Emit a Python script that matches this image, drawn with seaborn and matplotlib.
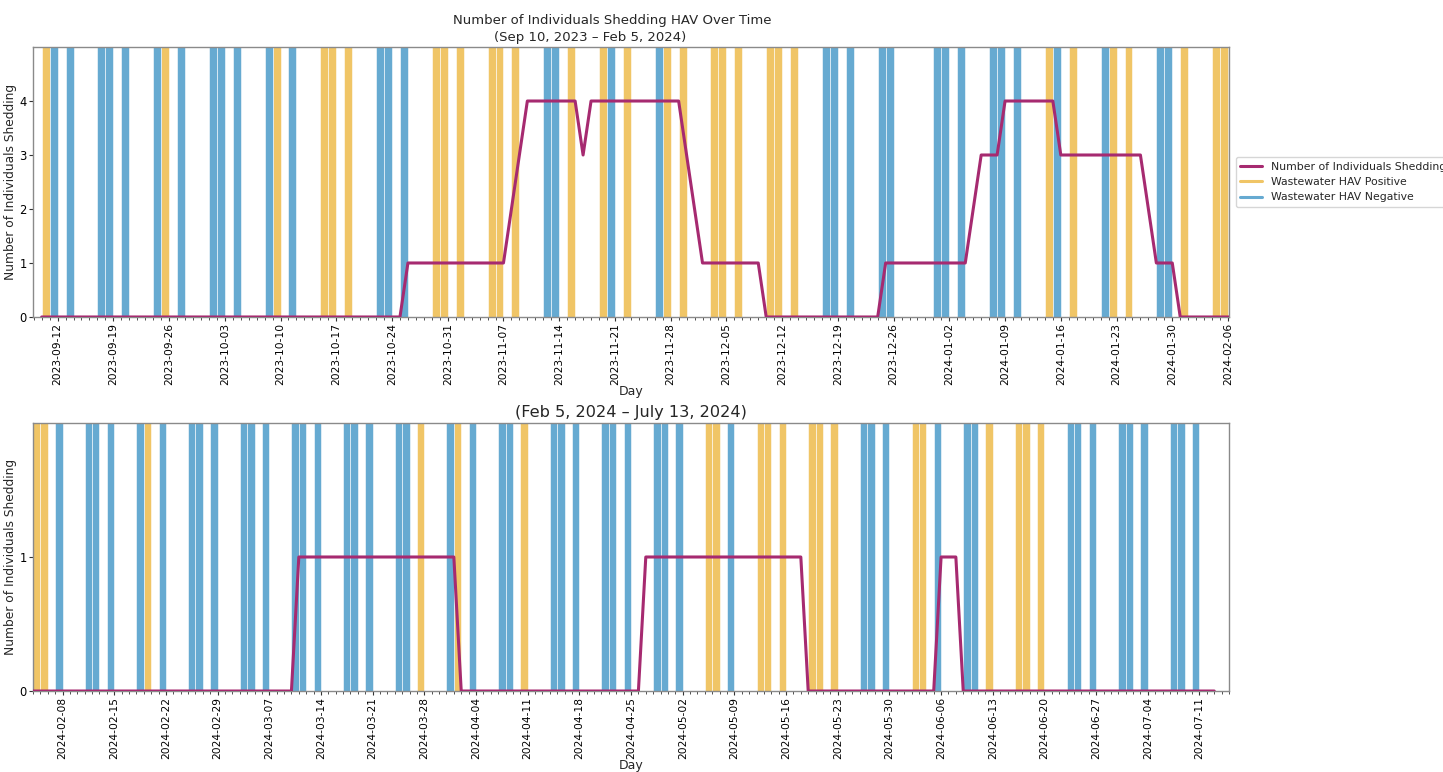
import numpy as np
import pandas as pd
import matplotlib
matplotlib.use("Agg")

import matplotlib.pyplot as plt
import matplotlib.dates as mdates
from matplotlib.lines import Line2D
import seaborn as sns

# Wastewater sampling days (Sun / Mon / Wed) and result: P = positive, N = negative
sample_dates = [
    "2023-09-10", "2023-09-11", "2023-09-13",
    "2023-09-17", "2023-09-18", "2023-09-20",
    "2023-09-24", "2023-09-25", "2023-09-27",
    "2023-10-01", "2023-10-02", "2023-10-04",
    "2023-10-08", "2023-10-09", "2023-10-11",
    "2023-10-15", "2023-10-16", "2023-10-18",
    "2023-10-22", "2023-10-23", "2023-10-25",
    "2023-10-29", "2023-10-30", "2023-11-01",
    "2023-11-05", "2023-11-06", "2023-11-08",
    "2023-11-12", "2023-11-13", "2023-11-15",
    "2023-11-19", "2023-11-20", "2023-11-22",
    "2023-11-26", "2023-11-27", "2023-11-29",
    "2023-12-03", "2023-12-04", "2023-12-06",
    "2023-12-10", "2023-12-11", "2023-12-13",
    "2023-12-17", "2023-12-18", "2023-12-20",
    "2023-12-24", "2023-12-25",
    "2023-12-31", "2024-01-01", "2024-01-03",
    "2024-01-07", "2024-01-08", "2024-01-10",
    "2024-01-14", "2024-01-15", "2024-01-17",
    "2024-01-21", "2024-01-22", "2024-01-24",
    "2024-01-28", "2024-01-29", "2024-01-31",
    "2024-02-04", "2024-02-05", "2024-02-07",
    "2024-02-11", "2024-02-12", "2024-02-14",
    "2024-02-18", "2024-02-19", "2024-02-21",
    "2024-02-25", "2024-02-26", "2024-02-28",
    "2024-03-03", "2024-03-04", "2024-03-06",
    "2024-03-10", "2024-03-11", "2024-03-13",
    "2024-03-17", "2024-03-18", "2024-03-20",
    "2024-03-24", "2024-03-25", "2024-03-27",
    "2024-03-31", "2024-04-01", "2024-04-03",
    "2024-04-07", "2024-04-08", "2024-04-10",
    "2024-04-14", "2024-04-15", "2024-04-17",
    "2024-04-21", "2024-04-22", "2024-04-24",
    "2024-04-28", "2024-04-29", "2024-05-01",
    "2024-05-05", "2024-05-06", "2024-05-08",
    "2024-05-12", "2024-05-13", "2024-05-15",
    "2024-05-19", "2024-05-20", "2024-05-22",
    "2024-05-26", "2024-05-27", "2024-05-29",
    "2024-06-02", "2024-06-03", "2024-06-05",
    "2024-06-09", "2024-06-10", "2024-06-12",
    "2024-06-16", "2024-06-17", "2024-06-19",
    "2024-06-23", "2024-06-24", "2024-06-26",
    "2024-06-30", "2024-07-01", "2024-07-03",
    "2024-07-07", "2024-07-08", "2024-07-10",
]

sample_results = [
    "P", "N", "N",
    "N", "N", "N",
    "N", "P", "N",
    "N", "N", "N",
    "N", "P", "N",
    "P", "P", "P",
    "N", "N", "N",
    "P", "P", "P",
    "P", "P", "P",
    "N", "N", "P",
    "P", "N", "P",
    "N", "P", "P",
    "P", "P", "P",
    "P", "P", "P",
    "N", "N", "N",
    "N", "N",
    "N", "N", "N",
    "N", "N", "N",
    "P", "N", "P",
    "N", "P", "P",
    "N", "N", "P",
    "P", "P", "N",
    "N", "N", "N",
    "N", "P", "N",
    "N", "N", "N",
    "N", "N", "N",
    "N", "N", "N",
    "N", "N", "N",
    "N", "N", "P",
    "N", "P", "N",
    "N", "N", "P",
    "N", "N", "N",
    "N", "N", "N",
    "N", "N", "N",
    "P", "P", "N",
    "P", "P", "P",
    "P", "P", "P",
    "N", "N", "N",
    "P", "P", "N",
    "N", "N", "P",
    "P", "P", "P",
    "N", "N", "N",
    "N", "N", "N",
    "N", "N", "N",
]

# Number of individuals shedding (days where the count changes)
shed_dates = [
    "2023-09-10", "2023-10-25", "2023-10-26", "2023-11-07", "2023-11-10",
    "2023-11-16", "2023-11-17", "2023-11-18", "2023-11-29", "2023-12-02",
    "2023-12-09", "2023-12-10", "2023-12-24", "2023-12-25", "2024-01-04",
    "2024-01-06", "2024-01-08", "2024-01-09", "2024-01-15", "2024-01-16",
    "2024-01-26", "2024-01-28", "2024-01-30", "2024-01-31", "2024-03-10",
    "2024-03-11", "2024-04-01", "2024-04-02", "2024-04-26", "2024-04-27",
    "2024-05-18", "2024-05-19", "2024-06-05", "2024-06-06", "2024-06-08",
    "2024-06-09", "2024-07-13",
]
shed_counts = [
    0, 0, 1, 1, 4,
    4, 3, 4, 4, 1,
    1, 0, 0, 1, 1,
    3, 3, 4, 4, 3,
    3, 1, 1, 0, 0,
    1, 1, 0, 0, 1,
    1, 0, 0, 1, 1,
    0, 0,
]

panel_titles = ["(Sep 10, 2023 \u2013 Feb 5, 2024)", "(Feb 5, 2024 \u2013 July 13, 2024)"]
panel_limits = [
    ("2023-09-08 22:00", "2024-02-06 03:00"),
    ("2024-02-04 00:00", "2024-07-15 00:00"),
]
panel_first_tick = ["2023-09-12", "2024-02-08"]

pos_color = "#F0C566"
neg_color = "#66AAD1"
line_color = "#A62A70"

samples = pd.DataFrame({
    "date": pd.to_datetime(sample_dates),
    "result": sample_results,
})
shed = pd.DataFrame({
    "date": pd.to_datetime(shed_dates),
    "count": shed_counts,
})

sns.set_style("ticks")
plt.rcParams["font.family"] = ["DejaVu Sans"]
plt.rcParams["axes.edgecolor"] = "#8a8a8a"
plt.rcParams["xtick.color"] = "#333333"
plt.rcParams["ytick.color"] = "#333333"
plt.rcParams["xtick.labelcolor"] = "black"
plt.rcParams["ytick.labelcolor"] = "black"

fig = plt.figure(figsize=(14.43, 7.72), dpi=100)
ax_top = fig.add_axes([0.0229, 0.5894, 0.8288, 0.3497])
ax_bot = fig.add_axes([0.0229, 0.1049, 0.8288, 0.3472])

for i, ax in enumerate([ax_top, ax_bot]):

    lo, hi = pd.Timestamp(panel_limits[i][0]), pd.Timestamp(panel_limits[i][1])

    sub = shed[(shed["date"] >= lo.normalize()) & (shed["date"] <= hi)]
    ymax = sub["count"].max() + 1

    # sampling bars, full height, one day wide
    for res, col in [("P", pos_color), ("N", neg_color)]:
        s = samples[samples["result"] == res]
        ax.bar(
            s["date"],
            ymax,
            width=1,
            align="edge",
            color=col,
            edgecolor="white",
            linewidth=0.4,
            zorder=1
        )

    sns.lineplot(
        data=shed,
        x="date",
        y="count",
        color=line_color,
        lw=2.2,
        ax=ax,
        zorder=3
    )

    ax.set_xlim(lo, hi)
    ax.set_ylim(0, ymax)
    ax.set_yticks(range(0, int(ymax)))

    ticks = pd.date_range(panel_first_tick[i], hi, freq="7D")
    ax.set_xticks(ticks)
    ax.xaxis.set_major_formatter(mdates.DateFormatter("%Y-%m-%d"))
    ax.xaxis.set_minor_locator(mdates.DayLocator())
    ax.tick_params(axis="x", which="major", rotation=90, labelsize=7.7, length=3, pad=1.5)
    ax.tick_params(axis="x", which="minor", length=1.8)
    ax.tick_params(axis="y", labelsize=8.3, length=3, pad=1.5)

    ax.set_xlabel("Day", fontsize=9, labelpad=0)
    ax.set_ylabel("Number of Individuals Shedding", fontsize=8.8, labelpad=2)

    for sp in ax.spines.values():
        sp.set_visible(True)
        sp.set_linewidth(1.0)

ax_top.text(
    0.484, 1.097,
    "Number of Individuals Shedding HAV Over Time",
    transform=ax_top.transAxes,
    ha="center", va="center", fontsize=9.5
)
ax_top.text(
    0.466, 1.034,
    panel_titles[0],
    transform=ax_top.transAxes,
    ha="center", va="center", fontsize=9.5
)
ax_bot.set_title(panel_titles[1], fontsize=11.6, pad=4)

handles = [
    Line2D([0], [0], color=line_color, lw=2.2),
    Line2D([0], [0], color=pos_color, lw=2.2),
    Line2D([0], [0], color=neg_color, lw=2.2),
]
ax_top.legend(
    handles,
    ["Number of Individuals Shedding", "Wastewater HAV Positive", "Wastewater HAV Negative"],
    loc="center left",
    bbox_to_anchor=(1.003, 0.5),
    fontsize=7.8,
    frameon=True,
    borderaxespad=0.3
)

fig.savefig("out.png", dpi=100)
